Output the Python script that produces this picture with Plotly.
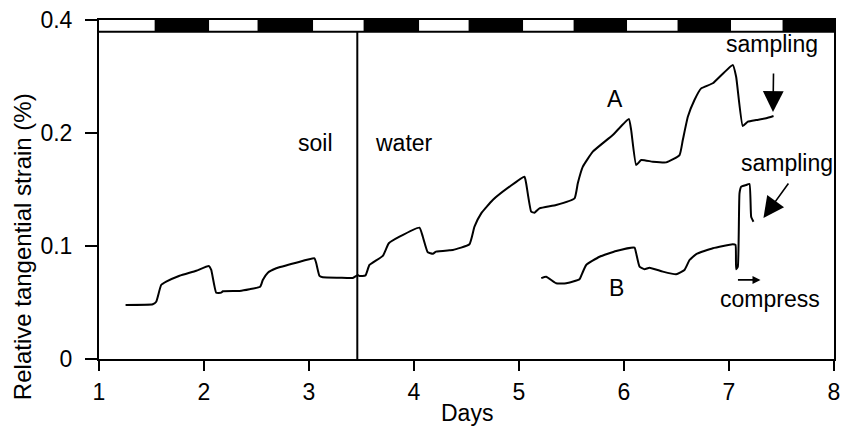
import plotly.graph_objects as go

# ---- data ----
a_days = [1.253, 1.512, 1.545, 1.592, 1.64, 1.767, 1.926, 2.046, 2.069, 2.116, 2.164, 2.18, 2.338, 2.433,
          2.535, 2.56, 2.608, 2.688, 2.878, 3.052, 3.069, 3.1, 3.131, 3.29, 3.417, 3.465, 3.48, 3.538,
          3.576, 3.703, 3.76, 3.862, 4.052, 4.084, 4.131, 4.18, 4.21, 4.338, 4.37, 4.528, 4.576, 4.64,
          4.75, 4.91, 5.052, 5.068, 5.116, 5.148, 5.195, 5.354, 5.529, 5.56, 5.608, 5.703, 5.893, 6.046,
          6.068, 6.116, 6.164, 6.274, 6.402, 6.529, 6.56, 6.608, 6.671, 6.735, 6.846, 7.036, 7.068,
          7.131, 7.179, 7.259, 7.354, 7.424]
a_strain = [0.0478, 0.0484, 0.0507, 0.0655, 0.0684, 0.0737, 0.0781, 0.0823, 0.0788, 0.0587, 0.0587,
            0.0599, 0.0602, 0.0617, 0.064, 0.0699, 0.0764, 0.0803, 0.0852, 0.0891, 0.0847, 0.0735,
            0.0723, 0.0719, 0.0717, 0.0743, 0.0735, 0.074, 0.0832, 0.0912, 0.1024, 0.1082, 0.1162,
            0.1082, 0.0945, 0.0932, 0.095, 0.0962, 0.0965, 0.1015, 0.1171, 0.1289, 0.1407, 0.1525,
            0.1613, 0.1555, 0.1304, 0.1295, 0.1333, 0.1363, 0.1422, 0.1555, 0.1702, 0.1835, 0.1982,
            0.2124, 0.2027, 0.1717, 0.1761, 0.1746, 0.174, 0.1805, 0.1938, 0.2144, 0.2292, 0.2395,
            0.244, 0.2602, 0.2498, 0.2062, 0.21, 0.2115, 0.213, 0.215]

b_days = [5.212, 5.259, 5.354, 5.45, 5.576, 5.602, 5.64, 5.767, 5.926, 6.1, 6.116, 6.148, 6.195, 6.243,
          6.37, 6.497, 6.576, 6.624, 6.688, 6.846, 7.036, 7.062, 7.068, 7.084, 7.1, 7.116, 7.164,
          7.195, 7.211, 7.233]
b_strain = [0.0716, 0.0728, 0.067, 0.067, 0.0705, 0.0758, 0.0832, 0.0905, 0.0956, 0.0985, 0.0935,
            0.0817, 0.0794, 0.0808, 0.0773, 0.075, 0.0788, 0.0876, 0.0929, 0.098, 0.1015, 0.1009,
            0.0795, 0.0817, 0.1466, 0.1525, 0.154, 0.1549, 0.1259, 0.1215]

# light (white) / dark (black) period boundaries, starting with light
period_edges = [1, 1.53, 2.05, 2.51, 3.04, 3.52, 4.05, 4.52, 5.04, 5.52, 6.03, 6.51, 7.02, 7.51, 8]
soil_water_day = 3.46

x_ticks = [1, 2, 3, 4, 5, 6, 7, 8]
y_tickvals = [0, 0.1, 0.2, 0.3]
y_ticktext = ["0", "0.1", "0.2", "0.4"]

FONT = "Liberation Sans, Arial, sans-serif"
FS = 23
TICK_FS = 23
BAR_LO, BAR_HI = 0.2895, 0.3

fig = go.Figure()
fig.add_trace(go.Scatter(x=a_days, y=a_strain, mode="lines",
                         line=dict(color="black", width=2, shape="spline", smoothing=0.4),
                         showlegend=False))
fig.add_trace(go.Scatter(x=b_days, y=b_strain, mode="lines",
                         line=dict(color="black", width=2, shape="spline", smoothing=0.4),
                         showlegend=False))

shapes = []
for i in range(len(period_edges) - 1):
    shapes.append(dict(type="rect", xref="x", yref="y",
                       x0=period_edges[i], x1=period_edges[i + 1], y0=BAR_LO, y1=BAR_HI,
                       fillcolor="white" if i % 2 == 0 else "black",
                       line=dict(width=0), layer="above"))
shapes.append(dict(type="line", xref="x", yref="y", x0=1, x1=8, y0=BAR_LO, y1=BAR_LO,
                   line=dict(color="black", width=2)))
shapes.append(dict(type="line", xref="x", yref="y", x0=soil_water_day, x1=soil_water_day,
                   y0=0, y1=BAR_LO, line=dict(color="black", width=2)))

tf = dict(family=FONT, size=FS, color="black")
annotations = [
    dict(x=3.062, y=0.1912, text="soil", showarrow=False, font=tf),
    dict(x=3.9, y=0.1912, text="water", showarrow=False, font=tf),
    dict(x=5.91, y=0.230, text="A", showarrow=False, font=tf),
    dict(x=5.93, y=0.0628, text="B", showarrow=False, font=tf),
    dict(x=7.414, y=0.2788, text="sampling", showarrow=False, font=tf),
    dict(x=7.557, y=0.1735, text="sampling", showarrow=False, font=tf),
    dict(x=7.386, y=0.0531, text="compress", showarrow=False, font=tf),
    # arrows
    dict(x=7.419, y=0.2186, ax=7.424, ay=0.254, axref="x", ayref="y", text="",
         showarrow=True, arrowhead=2, arrowsize=2.6, arrowwidth=1.6, arrowcolor="black"),
    dict(x=7.328, y=0.1248, ax=7.576, ay=0.1566, axref="x", ayref="y", text="",
         showarrow=True, arrowhead=2, arrowsize=2.6, arrowwidth=1.6, arrowcolor="black"),
    dict(x=7.3, y=0.07, ax=7.071, ay=0.07, axref="x", ayref="y", text="",
         showarrow=True, arrowhead=2, arrowsize=1.0, arrowwidth=1.6, arrowcolor="black"),
    # axis titles
    dict(xref="paper", yref="paper", x=0, y=0.33, xshift=-77, text="Relative tangential strain (%)",
         textangle=-90, showarrow=False, font=dict(family=FONT, size=24, color="black"),
         xanchor="center", yanchor="middle"),
    dict(xref="paper", yref="paper", x=0.5, y=-0.159, text="Days", showarrow=False,
         font=dict(family=FONT, size=23, color="black"), xanchor="center", yanchor="middle"),
]

fig.update_layout(
    width=842, height=429,
    margin=dict(l=99, r=8, t=20, b=70, autoexpand=False),
    paper_bgcolor="white", plot_bgcolor="white",
    shapes=shapes, annotations=annotations,
    font=dict(family=FONT, size=FS, color="black"),
    xaxis=dict(range=[1, 8], tickvals=x_ticks, ticks="outside", ticklen=10, tickwidth=1.5,
               tickcolor="black", showline=True, linecolor="black", linewidth=2, mirror=True,
               showgrid=False, zeroline=False, ticklabelstandoff=1, automargin=False,
               tickfont=dict(family=FONT, size=TICK_FS, color="black")),
    yaxis=dict(range=[0, 0.3], tickvals=y_tickvals, ticktext=y_ticktext, ticks="outside",
               ticklen=12, tickwidth=1.5, tickcolor="black", showline=True, linecolor="black",
               linewidth=2, mirror=True, showgrid=False, zeroline=False, ticklabelstandoff=8,
               automargin=False, tickfont=dict(family=FONT, size=TICK_FS, color="black")),
)

fig.write_html("out.html", config={"displayModeBar": False},
               post_script="document.body.style.margin='0';")
